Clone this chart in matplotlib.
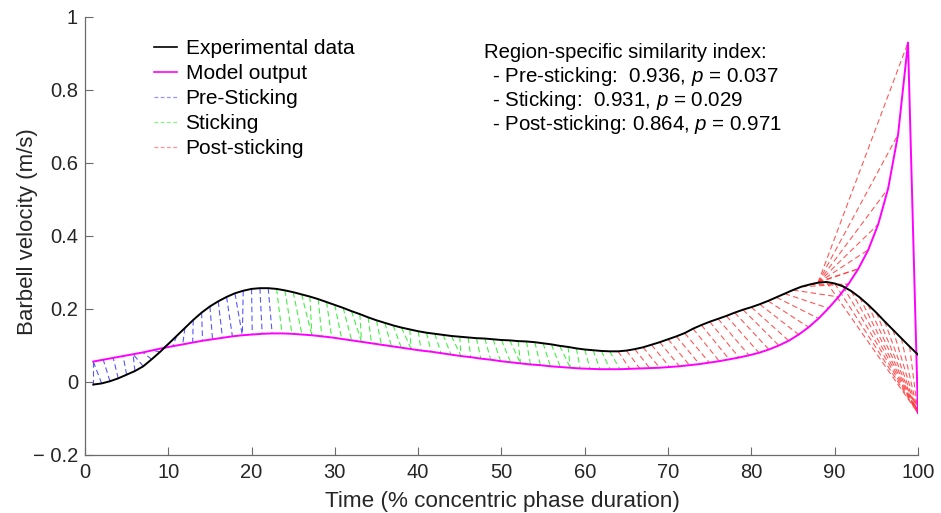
import numpy as np
import matplotlib
matplotlib.use("Agg")
import matplotlib.pyplot as plt
from matplotlib.lines import Line2D

plt.rcParams['font.family'] = ['Liberation Sans', 'DejaVu Sans']
plt.rcParams['mathtext.fontset'] = 'custom'
plt.rcParams['mathtext.rm'] = 'Liberation Sans'
plt.rcParams['mathtext.it'] = 'Liberation Sans:italic'

# ---------------- data ----------------
exp_time = np.arange(1, 101)
exp_velocity = [
    -0.007, -0.004, 0.002, 0.010, 0.020, 0.030, 0.043, 0.062, 0.082, 0.104,
    0.126, 0.148, 0.170, 0.190, 0.207, 0.221, 0.233, 0.243, 0.250, 0.255,
    0.257, 0.257, 0.255, 0.251, 0.246, 0.240, 0.234, 0.227, 0.219, 0.211,
    0.203, 0.194, 0.186, 0.177, 0.169, 0.162, 0.155, 0.149, 0.144, 0.139,
    0.135, 0.132, 0.129, 0.126, 0.124, 0.122, 0.120, 0.119, 0.117, 0.115,
    0.114, 0.112, 0.111, 0.109, 0.106, 0.103, 0.099, 0.096, 0.092, 0.089,
    0.087, 0.085, 0.084, 0.084, 0.086, 0.090, 0.095, 0.102, 0.109, 0.117,
    0.125, 0.134, 0.146, 0.156, 0.165, 0.173, 0.181, 0.190, 0.198, 0.205,
    0.213, 0.222, 0.232, 0.242, 0.252, 0.261, 0.267, 0.272, 0.274, 0.270,
    0.262, 0.249, 0.232, 0.212, 0.190, 0.166, 0.143, 0.120, 0.097, 0.075,
]

model_time = np.linspace(1, 100, 84)
model_velocity = [
    0.056, 0.061, 0.066, 0.071, 0.076, 0.081, 0.087, 0.093, 0.098, 0.103,
    0.108, 0.113, 0.117, 0.121, 0.125, 0.128, 0.130, 0.132, 0.133, 0.133,
    0.132, 0.130, 0.128, 0.125, 0.122, 0.118, 0.114, 0.110, 0.106, 0.102,
    0.098, 0.094, 0.090, 0.086, 0.083, 0.079, 0.075, 0.071, 0.068, 0.064,
    0.061, 0.057, 0.054, 0.051, 0.048, 0.046, 0.043, 0.041, 0.039, 0.037,
    0.036, 0.035, 0.035, 0.035, 0.036, 0.037, 0.038, 0.039, 0.041, 0.043,
    0.046, 0.049, 0.053, 0.057, 0.062, 0.067, 0.073, 0.080, 0.089, 0.100,
    0.113, 0.130, 0.150, 0.174, 0.202, 0.233, 0.268, 0.310, 0.362, 0.432,
    0.530, 0.678, 0.930, -0.085,
]

path_exp_idx = (
    list(range(0, 87)) + [86] + [87] * 6 + list(range(88, 100))
)
path_model_idx = [
    0, 0, 1, 2, 3, 4, 4, 5, 6, 7, 8, 9, 10, 11, 12, 13, 14, 15, 15, 16,
    17, 18, 19, 20, 21, 22, 22, 23, 24, 25, 26, 27, 27, 28, 29, 30, 31, 32,
    32, 33, 34, 35, 36, 37, 37, 38, 39, 40, 41, 42, 43, 43, 44, 45, 46, 47,
    48, 48, 49, 50, 51, 52, 53, 54, 55, 56, 57, 58, 59, 60, 61, 62, 63, 64,
    65, 66, 67, 68, 69, 70, 71, 72, 73, 74, 75, 76, 76, 77,
    77, 78, 79, 80, 81, 82,
    83, 83, 83, 83, 83, 83, 83, 83, 83, 83, 83, 83,
]

# region boundaries (in experimental time, %)
sticking_start = 22.5
post_sticking_start = 63.5

region_names = ['Pre-Sticking', 'Sticking', 'Post-sticking']
region_colors = ['#3a3aff', '#22ee22', '#ff3a3a']

stats_title = 'Region-specific similarity index:'
stats_lines = ['- Pre-sticking:  0.936, $p$ = 0.037',
               '- Sticking:  0.931, $p$ = 0.029',
               '- Post-sticking: 0.864, $p$ = 0.971']

xticks = [0, 10, 20, 30, 40, 50, 60, 70, 80, 90, 100]
yticks = [-0.2, 0, 0.2, 0.4, 0.6, 0.8, 1]
yticklabels = ['\u2212 0.2', '0', '0.2', '0.4', '0.6', '0.8', '1']

# ---------------- plot ----------------
fig = plt.figure(figsize=(9.41, 5.13), dpi=100)
ax = fig.add_axes([0.0903, 0.1131, 0.8852, 0.8538])

a = np.asarray(exp_velocity)
b = np.asarray(model_velocity)
for pi, pj in zip(path_exp_idx, path_model_idx):
    t = exp_time[pi]
    if t < sticking_start:
        c = region_colors[0]
    elif t < post_sticking_start:
        c = region_colors[1]
    else:
        c = region_colors[2]
    ax.plot([exp_time[pi], model_time[pj]], [a[pi], b[pj]], color=c,
            lw=0.8, ls=(0, (5, 3)), alpha=0.85, zorder=1)

ax.plot(exp_time, exp_velocity, color='black', lw=1.4, zorder=3)
ax.plot(model_time, model_velocity, color='#ff00ff', lw=1.4, zorder=2)

ax.set_xlim(0, 100)
ax.set_ylim(-0.2, 1)
ax.set_xticks(xticks)
ax.set_yticks(yticks)
ax.set_yticklabels(yticklabels)
for s in ['top', 'right']:
    ax.spines[s].set_visible(False)
for s in ['left', 'bottom']:
    ax.spines[s].set_color('#6a6a6a')
    ax.spines[s].set_linewidth(0.9)
ax.tick_params(direction='in', length=5.5, width=0.8, color='#6a6a6a',
               labelsize=14.5, labelcolor='#262626')
ax.tick_params(axis='x', pad=6)
ax.tick_params(axis='y', pad=5)
ax.set_xlabel('Time (% concentric phase duration)', fontsize=16.2,
              color='#262626', va='baseline')
ax.xaxis.set_label_coords(0.5006, -0.1187)
ax.set_ylabel('Barbell velocity (m/s)', fontsize=16, color='#262626',
              va='center')
ax.yaxis.set_label_coords(-0.0684, 0.511)

handles = [Line2D([], [], color='black', lw=1.2),
           Line2D([], [], color='#ff00ff', lw=1.2)]
handles += [Line2D([], [], color=c, lw=0.9, ls=(0, (3, 2)), alpha=0.55)
            for c in region_colors]
labels = ['Experimental data', 'Model output'] + region_names
leg = ax.legend(handles, labels, loc='upper left', bbox_to_anchor=(0.0732, 0.968),
                frameon=False, fontsize=15, handlelength=1.1,
                handletextpad=0.4, labelspacing=0.29, borderaxespad=0)

ax.text(0.479, 0.920, stats_title, transform=ax.transAxes, fontsize=14.6,
        va='center', ha='left', color='black')
for k, line in enumerate(stats_lines):
    ax.text(0.4886, 0.920 - (k + 1) * 0.0548, line, transform=ax.transAxes,
            fontsize=14.8, va='center', ha='left', color='black')

fig.savefig('out.png', dpi=100)
